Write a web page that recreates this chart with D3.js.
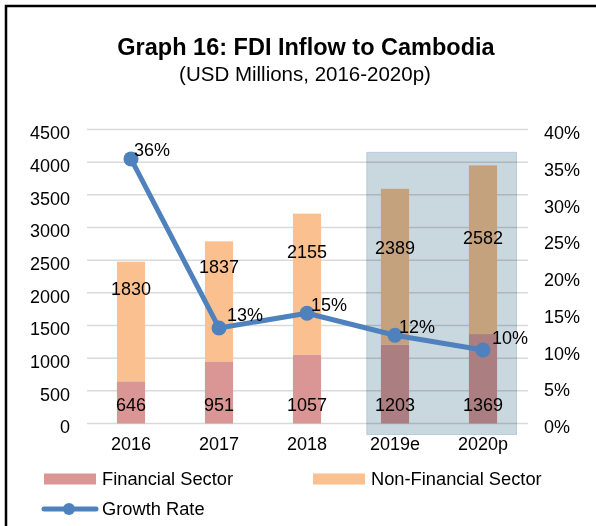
<!DOCTYPE html>
<html>
<head>
<meta charset="utf-8">
<script src="https://cdn.jsdelivr.net/npm/d3@7"></script>
<style>
  html, body { margin: 0; padding: 0; background: #fff; }
  svg { display: block; font-family: "Liberation Sans", Arial, sans-serif; }
</style>
</head>
<body>
<svg id="chart" width="596" height="526"></svg>
<script>
// FDI inflow to Cambodia, USD millions
const years = ["2016", "2017", "2018", "2019e", "2020p"];
const financial = [646, 951, 1057, 1203, 1369];
const nonFinancial = [1830, 1837, 2155, 2389, 2582];
const growthRate = [0.36, 0.13, 0.15, 0.12, 0.10];
const leftTicks = [0, 500, 1000, 1500, 2000, 2500, 3000, 3500, 4000, 4500];
const rightTicks = [0, 0.05, 0.10, 0.15, 0.20, 0.25, 0.30, 0.35, 0.40];
const projectedYears = ["2019e", "2020p"];

// label placement tweaks (pixels)
const nonFinLabelDrop = [27, 25, 38, 59, 72];
const rateLabelShift = [[3, -9], [8, -13], [4, -9], [4, -9], [9, -12]];

const colors = {
  financial: "#d99694",
  nonFinancial: "#fac090",
  line: "#4f81bd",
  grid: "#d9d9d9",
  shade: "#c9d7df"
};

const FONT = "Liberation Sans, Arial, sans-serif";
const svg = d3.select("#chart");

// outer frame (left and top edges)
svg.append("path")
  .attr("d", "M6,526 V6 H596")
  .attr("fill", "none")
  .attr("stroke", "#000")
  .attr("stroke-width", 2.5);

// titles
svg.append("text")
  .attr("x", 306).attr("y", 55)
  .attr("text-anchor", "middle")
  .attr("font-weight", "bold")
  .attr("font-size", 23.5)
  .text("Graph 16: FDI Inflow to Cambodia");
svg.append("text")
  .attr("x", 305).attr("y", 81)
  .attr("text-anchor", "middle")
  .attr("font-size", 20.5)
  .text("(USD Millions, 2016-2020p)");

const plot = { left: 87, right: 527, top: 129.5, bottom: 423.5 };

const x = d3.scaleBand()
  .domain(years)
  .range([plot.left, plot.right])
  .paddingInner(0.68)
  .paddingOuter(0.34);

const y = d3.scaleLinear().domain([0, 4500]).range([plot.bottom, plot.top]);
const y2 = d3.scaleLinear().domain([0, 0.40]).range([plot.bottom, plot.top]);

// gridlines
svg.append("g")
  .selectAll("line")
  .data(leftTicks)
  .join("line")
  .attr("x1", plot.left).attr("x2", plot.right + 1)
  .attr("y1", d => y(d)).attr("y2", d => y(d))
  .attr("stroke", colors.grid)
  .attr("stroke-width", 1.5);

// left axis
const leftAxis = svg.append("g")
  .attr("transform", `translate(${plot.left - 17},0)`)
  .call(d3.axisLeft(y).tickValues(leftTicks).tickFormat(d3.format("d")).tickSize(0).tickPadding(0));
leftAxis.select(".domain").remove();
leftAxis.selectAll("text")
  .attr("font-size", 18)
  .attr("font-family", FONT)
  .attr("fill", "#000")
  .attr("dy", "0.52em");

// right axis
const rightAxis = svg.append("g")
  .attr("transform", `translate(${plot.right + 17},0)`)
  .call(d3.axisRight(y2).tickValues(rightTicks).tickFormat(d3.format(".0%")).tickSize(0).tickPadding(0));
rightAxis.select(".domain").remove();
rightAxis.selectAll("text")
  .attr("font-size", 18)
  .attr("font-family", FONT)
  .attr("fill", "#000")
  .attr("dy", "0.5em");

// bottom category axis
const bottomAxis = svg.append("g")
  .attr("transform", `translate(0,${plot.bottom + 14})`)
  .call(d3.axisBottom(x).tickSize(0).tickPadding(0));
bottomAxis.select(".domain").remove();
bottomAxis.selectAll("text")
  .attr("font-size", 18)
  .attr("font-family", FONT)
  .attr("fill", "#000")
  .attr("dy", "0.72em");

// stacked bars
const rows = years.map((yr, i) => ({ yr, fin: financial[i], non: nonFinancial[i] }));
const stack = d3.stack().keys(["fin", "non"])(rows);
const fills = [colors.financial, colors.nonFinancial];

svg.append("g")
  .selectAll("g")
  .data(stack)
  .join("g")
  .attr("fill", (d, i) => fills[i])
  .selectAll("rect")
  .data(d => d)
  .join("rect")
  .attr("x", d => x(d.data.yr))
  .attr("width", x.bandwidth())
  .attr("y", d => y(d[1]))
  .attr("height", d => y(d[0]) - y(d[1]));

// projection shading over 2019e–2020p
const step = x.step();
const shadeLeft = x(projectedYears[0]) + x.bandwidth() / 2 - 0.32 * step;
const shadeRight = x(projectedYears[1]) + x.bandwidth() / 2 + 0.38 * step;
svg.append("rect")
  .attr("x", shadeLeft)
  .attr("y", y(4150))
  .attr("width", shadeRight - shadeLeft)
  .attr("height", y(0) + 11 - y(4150))
  .attr("fill", colors.shade)
  .attr("stroke", "#b9cbe0")
  .attr("stroke-width", 1)
  .style("mix-blend-mode", "multiply");

// bar value labels
const labels = svg.append("g").attr("font-size", 18).attr("fill", "#000").attr("text-anchor", "middle");
labels.selectAll("text.fin")
  .data(rows)
  .join("text")
  .attr("class", "fin")
  .attr("x", d => x(d.yr) + x.bandwidth() / 2)
  .attr("y", y(0) - 19)
  .attr("dy", "0.35em")
  .text(d => d.fin);
labels.selectAll("text.non")
  .data(rows)
  .join("text")
  .attr("class", "non")
  .attr("x", d => x(d.yr) + x.bandwidth() / 2)
  .attr("y", (d, i) => y(d.fin + d.non) + nonFinLabelDrop[i])
  .attr("dy", "0.35em")
  .text(d => d.non);

// growth rate line
const cx = yr => x(yr) + x.bandwidth() / 2;
const pts = years.map((yr, i) => [cx(yr), y2(growthRate[i])]);
svg.append("path")
  .attr("d", d3.line()(pts))
  .attr("fill", "none")
  .attr("stroke", colors.line)
  .attr("stroke-width", 5)
  .attr("stroke-linejoin", "round");
svg.append("g")
  .selectAll("circle")
  .data(pts)
  .join("circle")
  .attr("cx", d => d[0]).attr("cy", d => d[1])
  .attr("r", 7.5)
  .attr("fill", colors.line);
svg.append("g")
  .attr("font-size", 18)
  .selectAll("text")
  .data(pts)
  .join("text")
  .attr("x", (d, i) => d[0] + rateLabelShift[i][0])
  .attr("y", (d, i) => d[1] + rateLabelShift[i][1])
  .attr("dy", "0.35em")
  .text((d, i) => d3.format(".0%")(growthRate[i]));

// legend
const legend = svg.append("g").attr("font-size", 18.3);
const legendItems = [
  { name: "Financial Sector", color: colors.financial, lx: 44, ly: 479 },
  { name: "Non-Financial Sector", color: colors.nonFinancial, lx: 313, ly: 479 }
];
legendItems.forEach(item => {
  legend.append("rect")
    .attr("x", item.lx).attr("y", item.ly - 5.5)
    .attr("width", 52).attr("height", 11)
    .attr("fill", item.color);
  legend.append("text")
    .attr("x", item.lx + 58).attr("y", item.ly)
    .attr("dy", "0.35em")
    .text(item.name);
});
legend.append("line")
  .attr("x1", 44).attr("x2", 96)
  .attr("y1", 509).attr("y2", 509)
  .attr("stroke", colors.line)
  .attr("stroke-width", 5)
  .attr("stroke-linecap", "round");
legend.append("circle")
  .attr("cx", 69).attr("cy", 509).attr("r", 6)
  .attr("fill", colors.line);
legend.append("text")
  .attr("x", 102).attr("y", 509)
  .attr("dy", "0.35em")
  .text("Growth Rate");
</script>
</body>
</html>
